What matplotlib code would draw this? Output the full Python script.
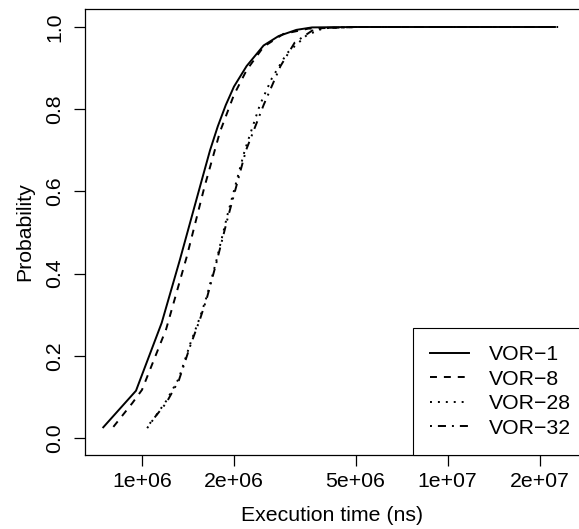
import matplotlib
matplotlib.use('Agg')
import matplotlib.pyplot as plt
from matplotlib.ticker import FixedLocator, NullLocator

plt.rcParams['font.family'] = ['Liberation Sans', 'DejaVu Sans']
plt.rcParams['font.size'] = 15.3
plt.rcParams['lines.scale_dashes'] = False

# CDF points (execution time in ns, probability)
vor1_x = [7.47e5, 9.56e5, 1.16e6, 1.33e6, 1.57e6, 1.67e6, 1.77e6, 1.88e6, 2.0e6,
          2.2e6, 2.5e6, 2.8e6, 3.2e6, 3.6e6, 5e6, 1e7, 2.24e7]
vor1_y = [0.026, 0.115, 0.28, 0.433, 0.628, 0.70, 0.758, 0.81, 0.855,
          0.905, 0.955, 0.978, 0.993, 0.999, 1.0, 1.0, 1.0]

vor8_x = [8.06e5, 9.3e5, 1.0e6, 1.2e6, 1.4e6, 1.6e6, 1.8e6, 2.0e6, 2.2e6, 2.5e6,
          2.9e6, 3.5e6, 5e6, 1e7, 2.26e7]
vor8_y = [0.027, 0.085, 0.117, 0.265, 0.44, 0.61, 0.745, 0.835, 0.895, 0.952,
          0.983, 0.996, 1.0, 1.0, 1.0]

vor28_x = [1.04e6, 1.2e6, 1.32e6, 1.44e6, 1.55e6, 1.63e6, 1.75e6, 1.9e6, 2.17e6,
           2.43e6, 2.66e6, 2.98e6, 3.46e6, 3.92e6, 5e6, 1e7, 2.3e7]
vor28_y = [0.024, 0.09, 0.145, 0.23, 0.295, 0.345, 0.43, 0.54, 0.70,
           0.81, 0.875, 0.936, 0.98, 0.997, 1.0, 1.0, 1.0]

vor32_x = [1.06e6, 1.2e6, 1.32e6, 1.44e6, 1.55e6, 1.63e6, 1.75e6, 1.9e6, 2.19e6,
           2.5e6, 2.84e6, 3.16e6, 3.6e6, 4.0e6, 5e6, 1e7, 2.3e7]
vor32_y = [0.035, 0.085, 0.14, 0.225, 0.29, 0.34, 0.425, 0.53, 0.70,
           0.81, 0.905, 0.962, 0.991, 0.998, 1.0, 1.0, 1.0]

labels = ['VOR\u22121', 'VOR\u22128', 'VOR\u221228', 'VOR\u221232']
xticks = [1e6, 2e6, 5e6, 1e7, 2e7]
xticklabels = ['1e+06', '2e+06', '5e+06', '1e+07', '2e+07']
yticks = [0.0, 0.2, 0.4, 0.6, 0.8, 1.0]

fig = plt.figure(figsize=(5.79, 5.29), dpi=100)
ax = fig.add_axes([85/579, 74/529, 495/579, 446/529])

lw = 1.4
ax.plot(vor1_x, vor1_y, color='black', lw=lw, label=labels[0])
ax.plot(vor8_x, vor8_y, color='black', lw=lw, dashes=(5, 5), label=labels[1])
ax.plot(vor28_x, vor28_y, color='black', lw=lw, dashes=(1.4, 4.3), label=labels[2])
ax.plot(vor32_x, vor32_y, color='black', lw=lw, dashes=(1.4, 4.3, 5.8, 4.3), label=labels[3])

ax.set_xscale('log')
ax.set_xlim(6.51e5, 2.712e7)
ax.set_ylim(-0.0414, 1.0438)
ax.xaxis.set_major_locator(FixedLocator(xticks))
ax.xaxis.set_minor_locator(NullLocator())
ax.set_xticklabels(xticklabels)
ax.set_yticks(yticks)
ax.set_yticklabels(['0.0', '0.2', '0.4', '0.6', '0.8', '1.0'], rotation=90, va='center')

ax.tick_params(axis='both', direction='out', length=8, width=0.9)
ax.tick_params(axis='x', pad=4)
ax.tick_params(axis='y', pad=7)
for sp in ax.spines.values():
    sp.set_linewidth(0.9)

ax.set_xlabel('Execution time (ns)', labelpad=11)
ax.set_ylabel('Probability', labelpad=8)

leg = ax.legend(loc='lower left', bbox_to_anchor=(0.6626, 0.0), borderaxespad=0,
                frameon=True, fancybox=False, edgecolor='black', framealpha=1,
                handlelength=1.8, handletextpad=0.95, labelspacing=0.26,
                borderpad=0.82)
leg.get_frame().set_linewidth(0.8)

fig.savefig('out.png', dpi=100)
